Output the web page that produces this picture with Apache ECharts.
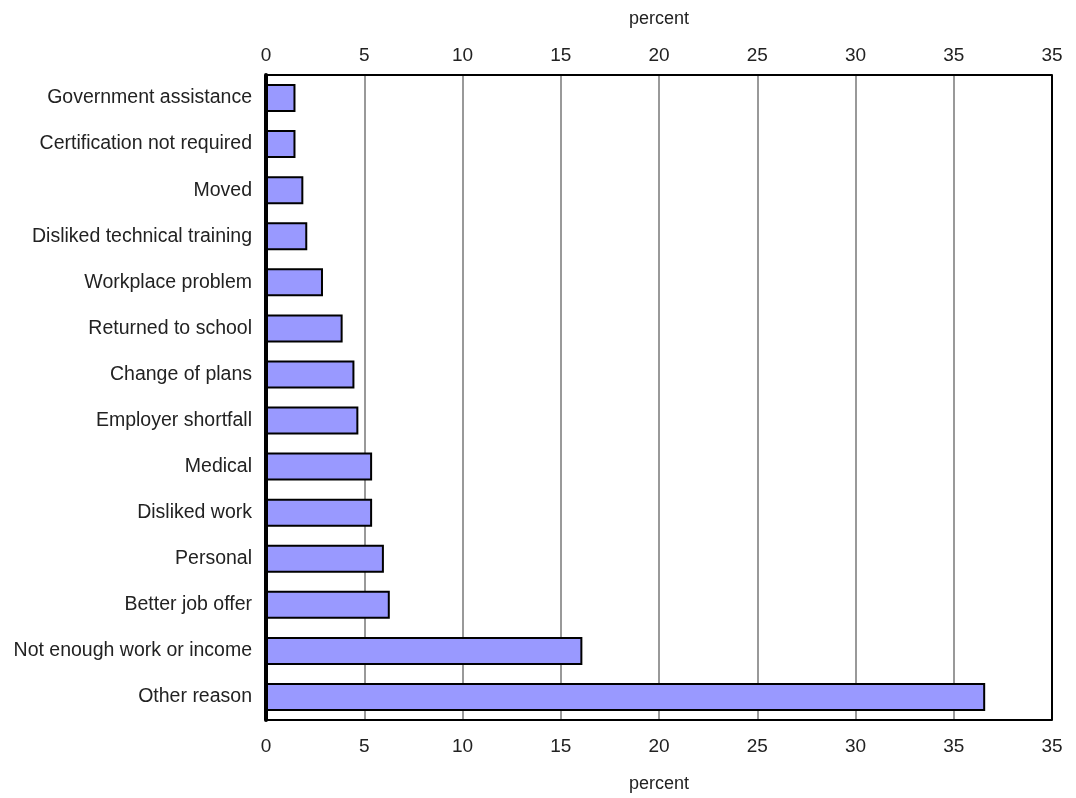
<!DOCTYPE html>
<html>
<head>
<meta charset="utf-8">
<script src="https://cdn.jsdelivr.net/npm/echarts@6/dist/echarts.min.js"></script>
<style>html,body{margin:0;padding:0;background:#fff}#c{width:1076px;height:798px}</style>
</head>
<body>
<div id="c"></div>
<script>
var categories = ["Government assistance","Certification not required","Moved","Disliked technical training","Workplace problem","Returned to school","Change of plans","Employer shortfall","Medical","Disliked work","Personal","Better job offer","Not enough work or income","Other reason"];
var values = [1.5, 1.5, 1.9, 2.1, 2.9, 3.9, 4.5, 4.7, 5.4, 5.4, 6.0, 6.3, 16.1, 36.6];
var tickLabels = ["0","5","10","15","20","25","30","35","35"];
var axisTitle = "percent";

var FONT = "'Liberation Sans Narrow', 'Liberation Sans', Arial, sans-serif";
var chart = echarts.init(document.getElementById('c'));
function fmt(v){ var i = Math.round(v/5); return tickLabels[i] !== undefined ? tickLabels[i] : ''; }
var xCommon = {
  type: 'value', min: 0, max: 40, interval: 5,
  name: axisTitle, nameLocation: 'middle',
  nameTextStyle: {fontFamily: FONT, fontSize: 18, color: '#222'},
  axisTick: {show: false},
  axisLabel: {fontFamily: FONT, fontSize: 19, color: '#222', formatter: fmt}
};
chart.setOption({
  animation: false,
  grid: {left: 266, right: 24, top: 75, bottom: 78, containLabel: false},
  xAxis: [
    Object.assign({}, xCommon, {position: 'top', nameGap: 47,
      axisLine: {show: true, lineStyle: {color: '#000', width: 2}},
      axisLabel: Object.assign({}, xCommon.axisLabel, {margin: 10}),
      splitLine: {show: true, lineStyle: {width: 2,
        color: ['#000','#999','#999','#999','#999','#999','#999','#999','#000']}}}),
    Object.assign({}, xCommon, {position: 'bottom', nameGap: 55,
      axisLine: {show: true, lineStyle: {color: '#000', width: 2}},
      axisLabel: Object.assign({}, xCommon.axisLabel, {margin: 17}),
      splitLine: {show: false}})
  ],
  yAxis: [
    {type: 'category', data: categories, inverse: true, z: 5,
     axisLine: {show: true, lineStyle: {color: '#000', width: 4}},
     axisTick: {show: false},
     axisLabel: {fontFamily: FONT, fontSize: 19.5, color: '#222', margin: 14}}
  ],
  series: [{
    type: 'bar', data: values, xAxisIndex: 0, yAxisIndex: 0,
    barWidth: 28,
    itemStyle: {color: '#9999ff', borderColor: '#000', borderWidth: 2}
  }]
});
</script>
</body>
</html>
